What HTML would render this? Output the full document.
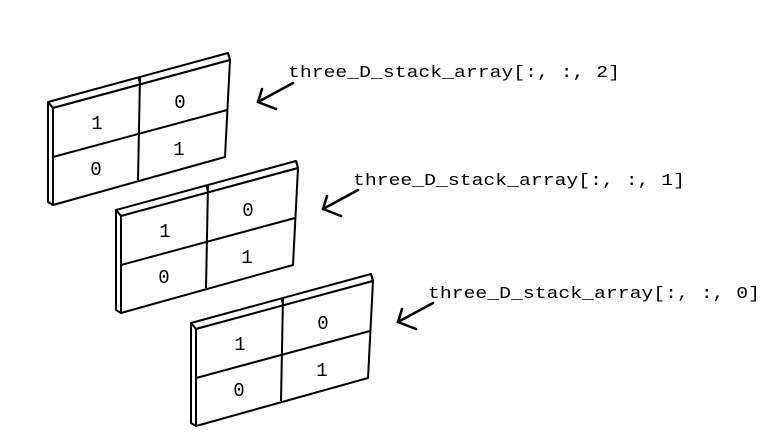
<!DOCTYPE html>
<html><head><style>body{margin:0;background:#fff}svg{display:block}</style></head>
<body>
<svg width="769" height="445" xmlns="http://www.w3.org/2000/svg">
<defs>
<g id="p" stroke="#000" stroke-width="2" fill="#fff" stroke-linejoin="round">
  <polygon points="48,102 228,53 230,60 53,108"/>
  <polygon points="48,102 53,108 53,205 48,202"/>
  <polygon points="53,108 230,60 225,157 53,205"/>
  <line x1="140" y1="77" x2="138" y2="180"/>
  <line x1="53" y1="157" x2="227" y2="110"/>
  <line x1="138" y1="77" x2="140" y2="84" stroke-width="1.5"/>
  <line x1="228" y1="53" x2="230" y2="60"/>
  <g font-family="Liberation Mono, monospace" font-size="19" fill="#000" stroke="none" text-anchor="middle">
    <text x="97" y="129">1</text><text x="180" y="108">0</text>
    <text x="96" y="175">0</text><text x="179" y="155">1</text>
  </g>
</g>
<g id="a" stroke="#000" stroke-width="2.5" fill="none" stroke-linecap="round">
  <line x1="293" y1="83" x2="258" y2="102"/>
  <polyline points="262,89 258,102 276,109"/>
</g>
</defs>
<use href="#p"/>
<use href="#p" transform="translate(68,108)"/>
<use href="#p" transform="translate(143,221)"/>
<use href="#a"/>
<use href="#a" transform="translate(65,107)"/>
<use href="#a" transform="translate(140,220)"/>
<g font-family="Liberation Mono, monospace" font-size="17" fill="#000">
<text x="288" y="77" textLength="332" lengthAdjust="spacingAndGlyphs">three_D_stack_array[:, :, 2]</text>
<text x="353" y="185" textLength="332" lengthAdjust="spacingAndGlyphs">three_D_stack_array[:, :, 1]</text>
<text x="428" y="298" textLength="332" lengthAdjust="spacingAndGlyphs">three_D_stack_array[:, :, 0]</text>
</g>
</svg>
</body></html>
